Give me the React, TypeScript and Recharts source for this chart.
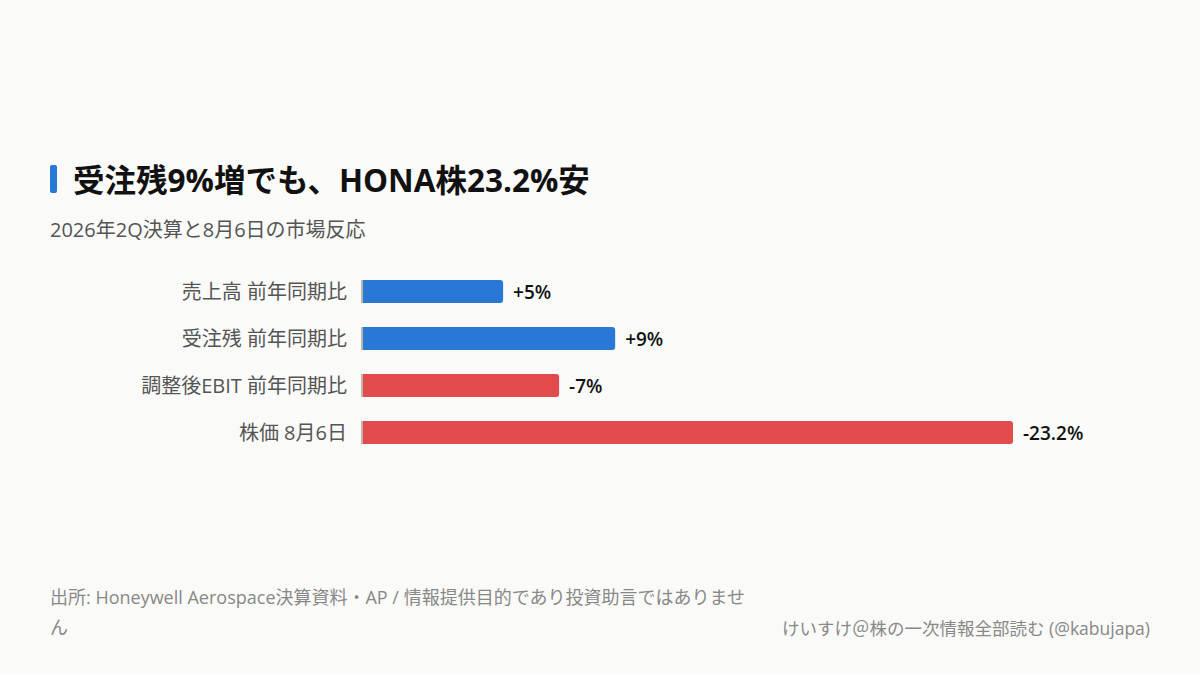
import React from "react";
import { BarChart, Bar, XAxis, YAxis, Cell, LabelList } from "recharts";

const categories = ["売上高 前年同期比", "受注残 前年同期比", "調整後EBIT 前年同期比", "株価 8月6日"];
const changes = [5, 9, -7, -23.2];
const valueLabels = ["+5%", "+9%", "-7%", "-23.2%"];
const barColors = ["#2A78D6", "#2A78D6", "#E24B4B", "#E24B4B"];

const FONT = "'Open Sans', 'Noto Sans CJK JP', sans-serif";

const data = categories.map((c, i) => ({
  name: c,
  value: Math.abs(changes[i]),
  label: valueLabels[i],
}));

const BarShape = (props: any) => {
  const { x, y, width, height, fill } = props;
  const r = 3;
  const w = Math.max(width, 0);
  const path = `M${x},${y} H${x + w - r} Q${x + w},${y} ${x + w},${y + r} V${y + height - r} Q${x + w},${y + height} ${x + w - r},${y + height} H${x} Z`;
  return (
    <g>
      <path d={path} fill={fill} />
      <rect x={x - 2} y={y} width={2} height={height} fill="#BAB6AC" />
    </g>
  );
};

const ValueLabel = (props: any) => {
  const { x, y, width, height, index } = props;
  return (
    <text
      x={x + width + 10}
      y={y + height / 2}
      dominantBaseline="central"
      fontFamily={FONT}
      fontSize={19}
      fontWeight={600}
      fill="#111"
    >
      {valueLabels[index]}
    </text>
  );
};

export default function App() {
  return (
    <div
      style={{
        position: "fixed",
        top: 0,
        left: 0,
        width: 1200,
        height: 675,
        background: "#FAFAF8",
        fontFamily: FONT,
        overflow: "hidden",
      }}
    >
      <div style={{ position: "absolute", left: 50, top: 165, width: 7, height: 28, background: "#2A78D6", borderRadius: 2 }} />
      <div
        style={{
          position: "absolute",
          left: 73,
          top: 157,
          fontSize: 31.5,
          fontWeight: 700,
          color: "#111",
          lineHeight: "46px",
          whiteSpace: "nowrap",
        }}
      >
        受注残9%増でも、HONA株23.2%安
      </div>
      <div
        style={{
          position: "absolute",
          left: 50,
          top: 215,
          fontSize: 20,
          color: "#555",
          lineHeight: "30px",
          whiteSpace: "nowrap",
        }}
      >
        2026年2Q決算と8月6日の市場反応
      </div>
      <div style={{ position: "absolute", left: 0, top: 0 }}>
        <BarChart
          width={1200}
          height={675}
          data={data}
          layout="vertical"
          margin={{ top: 268, bottom: 219, left: 0, right: 187 }}
          barSize={23}
        >
          <XAxis type="number" hide domain={[0, 23.2]} />
          <YAxis
            type="category"
            dataKey="name"
            width={363}
            axisLine={false}
            tickLine={false}
            tickSize={0}
            tickMargin={16}
            tick={{ fill: "#555", fontSize: 20, fontFamily: FONT }}
          />
          <Bar dataKey="value" isAnimationActive={false} shape={<BarShape />}>
            {data.map((d, i) => (
              <Cell key={i} fill={barColors[i]} />
            ))}
            <LabelList dataKey="label" content={<ValueLabel />} />
          </Bar>
        </BarChart>
      </div>
      <div
        style={{
          position: "absolute",
          left: 50,
          top: 582,
          fontSize: 18,
          color: "#888",
          lineHeight: "30px",
          whiteSpace: "nowrap",
        }}
      >
        出所: Honeywell Aerospace決算資料・AP / 情報提供目的であり投資助言ではありませ
        <br />ん
      </div>
      <div
        style={{
          position: "absolute",
          right: 50,
          top: 614,
          fontSize: 17.5,
          color: "#888",
          lineHeight: "28px",
          whiteSpace: "nowrap",
        }}
      >
        けいすけ＠株の一次情報全部読む (@kabujapa)
      </div>
    </div>
  );
}
